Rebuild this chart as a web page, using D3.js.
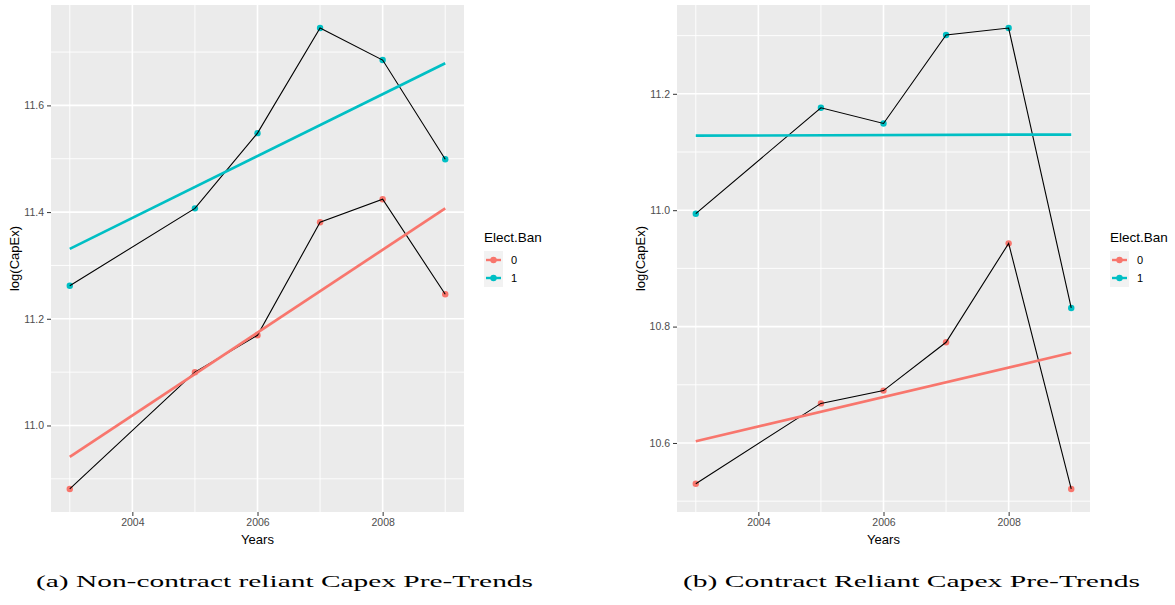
<!DOCTYPE html>
<html>
<head>
<meta charset="utf-8">
<script src="https://cdn.jsdelivr.net/npm/d3@7"></script>
<style>
  html, body { margin: 0; padding: 0; background: #fff; }
  svg { display: block; }
  text { font-family: "Liberation Sans", Arial, sans-serif; }
</style>
</head>
<body>
<svg id="fig" width="1175" height="605"></svg>
<script>
// Observation years (no 2004 observation in either sample)
const years = [2003, 2005, 2006, 2007, 2008, 2009];
const groups = ["0", "1"];
const groupColors = ["#F8766D", "#00BFC4"];

// Panel (a): non-contract reliant firms, mean log(CapEx) by Elect.Ban
const nonContractBan0 = [10.881, 11.100, 11.169, 11.381, 11.424, 11.246];
const nonContractBan1 = [11.262, 11.407, 11.548, 11.745, 11.685, 11.499];
// Linear trend endpoints (2003, 2009)
const trendYears = [2003, 2009];
const nonContractTrend0 = [10.941, 11.407];
const nonContractTrend1 = [11.331, 11.679];

// Panel (b): contract reliant firms
const contractBan0 = [10.530, 10.668, 10.690, 10.773, 10.943, 10.521];
const contractBan1 = [10.994, 11.176, 11.149, 11.301, 11.313, 10.832];
const contractTrend0 = [10.603, 10.755];
const contractTrend1 = [11.128, 11.130];

// Axis breaks
const xTicks = [2004, 2006, 2008];
const xMinor = [2003, 2005, 2007, 2009];
const yTicksA = [11.0, 11.2, 11.4, 11.6];
const yMinorA = [10.9, 11.1, 11.3, 11.5, 11.7];
const yTicksB = [10.6, 10.8, 11.0, 11.2];
const yMinorB = [10.5, 10.7, 10.9, 11.1, 11.3];

const captionA = "(a) Non-contract reliant Capex Pre-Trends";
const captionB = "(b) Contract Reliant Capex Pre-Trends";

const svg = d3.select("#fig");
svg.append("rect").attr("width", 1175).attr("height", 605).attr("fill", "#fff");

function expand(ext, f) {
  const d = (ext[1] - ext[0]) * f;
  return [ext[0] - d, ext[1] + d];
}

function drawPanel(opt) {
  const g = svg.append("g");
  const x = d3.scaleLinear()
    .domain(expand(d3.extent(years), 0.05))
    .range([opt.left, opt.right]);
  const allY = opt.series.flat().concat(opt.trends.flat());
  const y = d3.scaleLinear()
    .domain(expand(d3.extent(allY), 0.05))
    .range([opt.bottom, opt.top]);

  // panel background
  g.append("rect")
    .attr("x", opt.left).attr("y", opt.top)
    .attr("width", opt.right - opt.left).attr("height", opt.bottom - opt.top)
    .attr("fill", "#EBEBEB");

  // grid: minor then major
  const grid = g.append("g").attr("stroke", "#fff").attr("fill", "none");
  opt.yMinor.forEach(v => grid.append("line")
    .attr("x1", opt.left).attr("x2", opt.right)
    .attr("y1", y(v)).attr("y2", y(v)).attr("stroke-width", 0.9));
  xMinor.forEach(v => grid.append("line")
    .attr("y1", opt.top).attr("y2", opt.bottom)
    .attr("x1", x(v)).attr("x2", x(v)).attr("stroke-width", 0.9));
  opt.yTicks.forEach(v => grid.append("line")
    .attr("x1", opt.left).attr("x2", opt.right)
    .attr("y1", y(v)).attr("y2", y(v)).attr("stroke-width", 1.6));
  xTicks.forEach(v => grid.append("line")
    .attr("y1", opt.top).attr("y2", opt.bottom)
    .attr("x1", x(v)).attr("x2", x(v)).attr("stroke-width", 1.6));

  // axes
  const yAxis = d3.axisLeft(y).tickValues(opt.yTicks).tickSize(4).tickPadding(3)
    .tickFormat(d3.format(".1f"));
  const ya = g.append("g").attr("transform", `translate(${opt.left},0)`).call(yAxis);
  const xAxis = d3.axisBottom(x).tickValues(xTicks).tickSize(4).tickPadding(3)
    .tickFormat(d3.format("d"));
  const xa = g.append("g").attr("transform", `translate(0,${opt.bottom})`).call(xAxis);
  [ya, xa].forEach(a => {
    a.select(".domain").remove();
    a.selectAll(".tick line").attr("stroke", "#333333").attr("stroke-width", 1);
    a.selectAll(".tick text")
      .attr("fill", "#4D4D4D")
      .style("font-family", "'Liberation Sans', Arial, sans-serif")
      .style("font-size", "10.5px");
  });

  // axis titles
  g.append("text")
    .attr("x", (opt.left + opt.right) / 2).attr("y", opt.bottom + 32)
    .attr("text-anchor", "middle").attr("font-size", 13).attr("fill", "#000")
    .text("Years");
  g.append("text")
    .attr("transform", `translate(${opt.yTitleX},${(opt.top + opt.bottom) / 2}) rotate(-90)`)
    .attr("text-anchor", "middle").attr("font-size", 13).attr("fill", "#000")
    .text("log(CapEx)");

  const line = d3.line().x(d => x(d[0])).y(d => y(d[1]));

  // points
  opt.series.forEach((vals, i) => {
    g.append("g").selectAll("circle")
      .data(years.map((yr, j) => [yr, vals[j]]))
      .join("circle")
      .attr("cx", d => x(d[0])).attr("cy", d => y(d[1]))
      .attr("r", 3.2).attr("fill", groupColors[i]);
  });
  // connecting lines
  opt.series.forEach(vals => {
    g.append("path")
      .datum(years.map((yr, j) => [yr, vals[j]]))
      .attr("d", line).attr("fill", "none")
      .attr("stroke", "#000").attr("stroke-width", 1.1);
  });
  // linear trends
  opt.trends.forEach((vals, i) => {
    g.append("path")
      .datum(trendYears.map((yr, j) => [yr, vals[j]]))
      .attr("d", line).attr("fill", "none")
      .attr("stroke", groupColors[i]).attr("stroke-width", 2.7);
  });

  // legend
  const lg = g.append("g").attr("transform", `translate(${opt.legendX},0)`);
  lg.append("text").attr("x", 0).attr("y", 242)
    .attr("font-size", 13.5).attr("fill", "#000").text("Elect.Ban");
  groups.forEach((lab, i) => {
    const cy = 260 + i * 18;
    lg.append("rect").attr("x", 0).attr("y", cy - 9)
      .attr("width", 19).attr("height", 18).attr("fill", "#F2F2F2");
    lg.append("line").attr("x1", 2).attr("x2", 17).attr("y1", cy).attr("y2", cy)
      .attr("stroke", groupColors[i]).attr("stroke-width", 2.4);
    lg.append("circle").attr("cx", 9.5).attr("cy", cy).attr("r", 3.2)
      .attr("fill", groupColors[i]);
    lg.append("text").attr("x", 27).attr("y", cy + 4)
      .attr("font-size", 11).attr("fill", "#000").text(lab);
  });
}

drawPanel({
  left: 51, right: 464, top: 5, bottom: 512,
  series: [nonContractBan0, nonContractBan1],
  trends: [nonContractTrend0, nonContractTrend1],
  yTicks: yTicksA, yMinor: yMinorA,
  yTitleX: 19, legendX: 484
});

drawPanel({
  left: 677, right: 1090, top: 5, bottom: 512,
  series: [contractBan0, contractBan1],
  trends: [contractTrend0, contractTrend1],
  yTicks: yTicksB, yMinor: yMinorB,
  yTitleX: 645, legendX: 1110
});

// sub-figure captions
[[captionA, 36, 497], [captionB, 683, 457]].forEach(([txt, x0, w]) => {
  svg.append("text")
    .attr("x", x0).attr("y", 587)
    .attr("textLength", w).attr("lengthAdjust", "spacingAndGlyphs")
    .style("font-family", "'Liberation Serif', 'DejaVu Serif', serif")
    .attr("font-size", 17.5).attr("fill", "#000")
    .text(txt);
});
</script>
</body>
</html>
